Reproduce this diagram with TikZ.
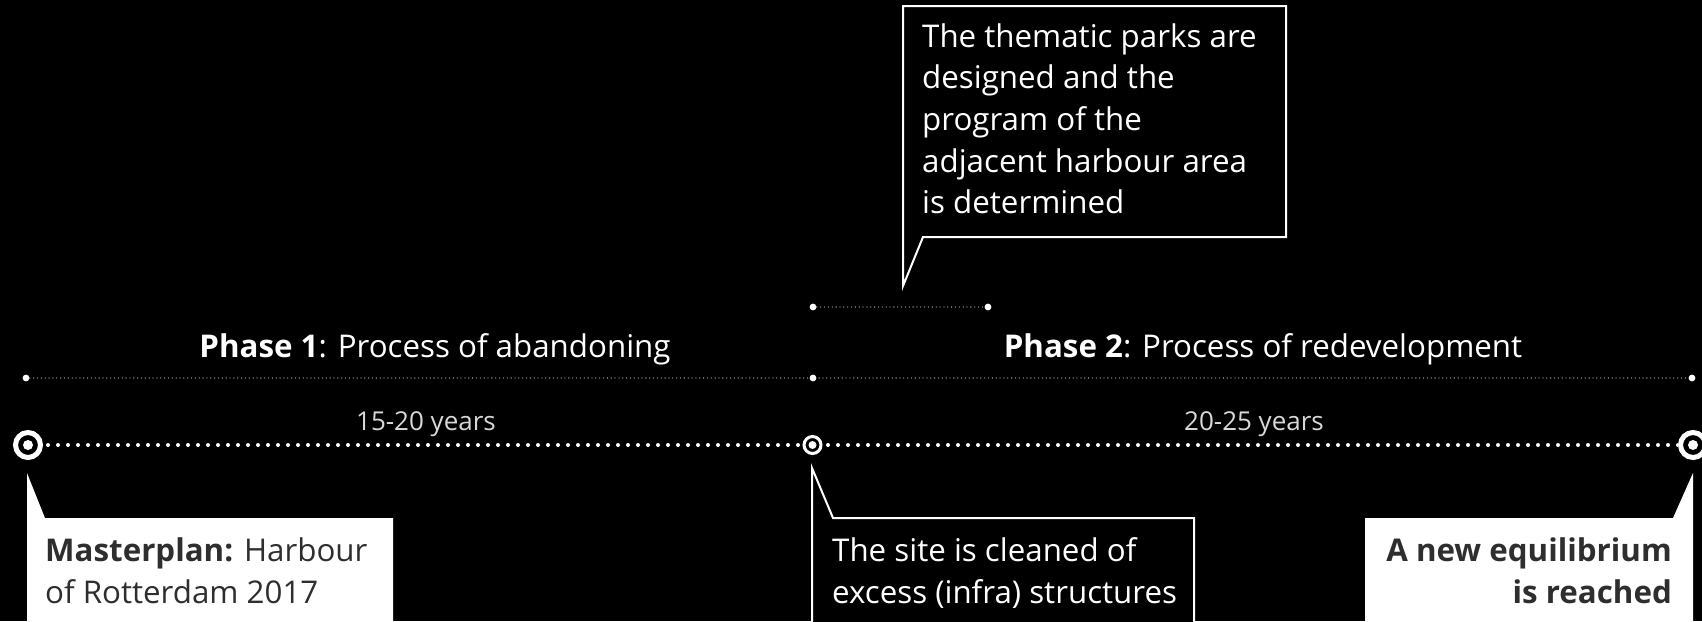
\documentclass[tikz,border=0pt]{standalone}
\usepackage{fontspec}
\setmainfont{Open Sans}
\definecolor{darktxt}{HTML}{2E2E2E}
\definecolor{yrtxt}{HTML}{D8D8D8}
\definecolor{thindot}{HTML}{B8B8B8}
\tikzset{
  calloutdark/.style={fill=black, draw=white, line width=2pt, line join=miter},
  bigtxt/.style={font=\fontsize{31.3}{41.7}\selectfont, inner sep=0pt},
  yrs/.style={font=\fontsize{26}{30}\selectfont, inner sep=0pt, text=yrtxt, anchor=base},
  maindots/.style={white, line width=4pt, line cap=round, dash pattern=on 0pt off 10pt},
  thindots/.style={thindot, line width=1.3pt, line cap=round, dash pattern=on 0pt off 3.85pt},
  enddot/.style={white},
}
\begin{document}
\begin{tikzpicture}[x=1pt,y=-1pt]
\fill[black] (0,0) rectangle (1702,621);
\useasboundingbox (0,0) rectangle (1702,621);
\clip (0,0) rectangle (1702,621);

% coordinates
\coordinate (m1) at (28,445);
\coordinate (m2) at (812.5,445);
\coordinate (m3) at (1693,445);
\coordinate (p1) at (26,378);
\coordinate (p2) at (813,378);
\coordinate (p3) at (1692,378);
\coordinate (s1) at (813,307);
\coordinate (s2) at (988,307);

% thin dotted lines
\draw[thindots] (p1) -- (p3);
\draw[thindots] (s1) -- (s2);
\foreach \c in {p1,p2,p3,s1,s2} \fill[enddot] (\c) circle (3.4pt);

% main dotted timeline
\draw[maindots] (m1) -- (m3);
\foreach \c in {m1,m3} {
  \fill[black] (\c) circle (15pt);
  \draw[white, line width=5pt] (\c) circle (12.5pt);
  \fill[white] (\c) circle (5pt);
}
\fill[black] (m2) circle (10pt);
\draw[white, line width=3pt] (m2) circle (8.5pt);
\fill[white] (m2) circle (4pt);

% phase labels
\node[bigtxt, text=white, anchor=base] (ph1) at (435,357) {\textbf{Phase 1}: Process of abandoning};
\node[bigtxt, text=white, anchor=base] (ph2) at (1263,357) {\textbf{Phase 2}: Process of redevelopment};
\node[yrs] (y1) at (426,430) {15-20 years};
\node[yrs] (y2) at (1254,430) {20-25 years};

% callouts
\draw[calloutdark] (903,6) -- (1286,6) -- (1286,237) -- (923,237) -- (903,286) -- cycle;
\fill[white] (27,473) -- (45,518) -- (393,518) -- (393,640) -- (27,640) -- cycle;
\draw[calloutdark] (812,468) -- (833,518) -- (1194,518) -- (1194,640) -- (812,640) -- cycle;
\fill[white] (1693,473) -- (1693,640) -- (1365,640) -- (1365,518) -- (1673,518) -- cycle;

% callout texts (base anchor = baseline of the last line)
\node[bigtxt, text=white, align=left, anchor=base west] (ttop) at (922,213.8)
  {The thematic parks are\\designed and the\\program of the\\adjacent harbour area\\is determined};
\node[bigtxt, text=darktxt, align=left, anchor=base west] (tmaster) at (45,603)
  {\textbf{Masterplan:} Harbour\\of Rotterdam 2017};
\node[bigtxt, text=white, align=left, anchor=base west] (tsite) at (832,603)
  {The site is cleaned of\\excess (infra) structures};
\node[bigtxt, text=darktxt, align=right, anchor=base east, font=\fontsize{31.3}{41.7}\selectfont\bfseries] (tequil) at (1672,603)
  {A new equilibrium\\is reached};
\end{tikzpicture}
\end{document}
